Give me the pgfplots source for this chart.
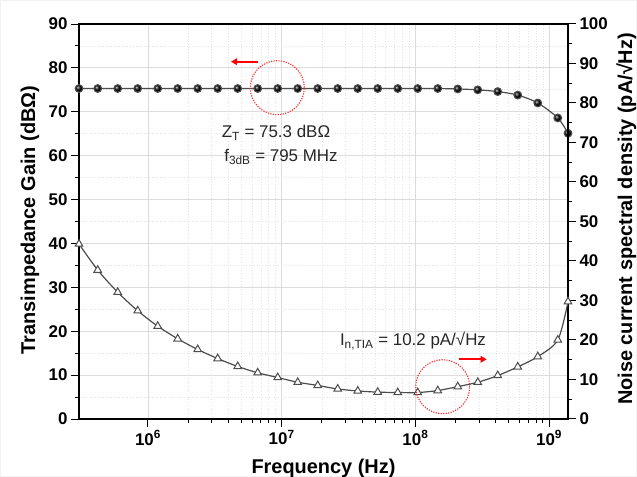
\documentclass[border=0pt]{standalone}
\usepackage{fontspec}
\setmainfont{Liberation Sans}
\usepackage{pgfplots}
\pgfplotsset{compat=1.18}
\usetikzlibrary{arrows.meta}

\definecolor{curve}{HTML}{4D4D4D}
\definecolor{gridmaj}{HTML}{DCDCDC}
\definecolor{gridmin}{HTML}{E4E4E4}

\pgfplotsset{
  tia/.style={
    scale only axis, width=489bp, height=395bp,
    at={(79bp,58bp)}, anchor=south west,
    xmin=3.05e5, xmax=1.385e9,
    tick align=outside, major tick length=8bp, minor tick length=4bp,
    every tick/.style={black, line width=1bp},
    axis line style={line width=1.3bp},
    tick label style={font=\fontsize{17}{17}\selectfont\bfseries},
    /pgf/number format/assume math mode=true,
  }
}

\begin{document}
\begin{tikzpicture}[lbl/.style={font=\fontsize{20}{20}\selectfont\bfseries, inner sep=0pt}]
\begin{pgfinterruptboundingbox}
% page frame, nearly white
\draw[black!5, line width=1bp] (0.5bp,0.5bp) rectangle (636.5bp,476.5bp);
\begin{semilogxaxis}[tia,
    ymin=0, ymax=90, ytick={0,10,...,90}, minor y tick num=1,
    xtick={1e6,1e7,1e8,1e9},
    xticklabels={10\textsuperscript{6},10\textsuperscript{7},10\textsuperscript{8},10\textsuperscript{9}},
    xtick pos=left, ytick pos=left,
    grid=both,
    major grid style={gridmaj, line width=0.8bp},
    minor grid style={gridmin, line width=0.7bp, dotted},
  ]
  % transimpedance gain (dBOhm)
  \addplot[curve, line width=1.2bp, smooth, mark=ball,
           mark options={ball color=black}, mark size=3.8bp] coordinates {
    (3.05e5,75.3)(4.21e5,75.3)(5.94e5,75.3)(8.38e5,75.3)(1.183e6,75.3)
    (1.669e6,75.3)(2.355e6,75.3)(3.323e6,75.3)(4.690e6,75.3)(6.618e6,75.3)
    (9.34e6,75.3)(1.318e7,75.3)(1.860e7,75.3)(2.625e7,75.3)(3.705e7,75.3)
    (5.228e7,75.3)(7.379e7,75.3)(1.041e8,75.3)(1.470e8,75.3)(2.074e8,75.2)
    (2.927e8,75.0)(4.130e8,74.6)(5.829e8,73.8)(8.228e8,72.0)(1.161e9,68.6)
    (1.385e9,65.1)
  };
\end{semilogxaxis}
\begin{semilogxaxis}[tia,
    ymin=0, ymax=100, ytick={0,10,...,100}, minor y tick num=1,
    hide x axis, axis y line*=right,
  ]
  % input-referred noise current (pA/sqrt(Hz))
  \addplot[curve, line width=1.2bp, smooth, mark=triangle*,
           mark options={fill=white, draw=curve, line width=1bp}, mark size=4.4bp] coordinates {
    (3.05e5,44.3)(4.21e5,37.7)(5.94e5,32.1)(8.38e5,27.4)(1.183e6,23.5)
    (1.669e6,20.3)(2.355e6,17.6)(3.323e6,15.3)(4.690e6,13.3)(6.618e6,11.7)
    (9.34e6,10.5)(1.318e7,9.3)(1.860e7,8.5)(2.625e7,7.6)(3.705e7,7.1)
    (5.228e7,6.8)(7.379e7,6.7)(1.041e8,6.7)(1.470e8,7.2)(2.074e8,8.2)
    (2.927e8,9.3)(4.130e8,11.0)(5.829e8,13.2)(8.228e8,15.8)(1.161e9,20.0)
    (1.385e9,29.7)
  };
\end{semilogxaxis}

% axis titles
\node[lbl, anchor=base] at (323.5bp,4bp) {Frequency (Hz)};
\node[lbl, anchor=base, rotate=90] at (35bp,257bp) {Transimpedance Gain (dBΩ)};
\node[lbl, anchor=base, rotate=90] at (632bp,258bp) {Noise current spectral density (pA/√Hz)};

% annotations
\draw[red!85!white, line width=1.1bp, dash pattern=on 1.2bp off 1.3bp]
  (277.3bp,389.3bp) circle[radius=27bp];
\draw[red!85!white, line width=1.1bp, dash pattern=on 1.2bp off 1.3bp]
  (442.7bp,90.3bp) circle[radius=27bp];
\draw[red, line width=2bp, -{Triangle[length=6bp,width=6.5bp]}]
  (258.3bp,415.3bp) -- (231bp,415.3bp);
\draw[red, line width=2bp, -{Triangle[length=6bp,width=6.5bp]}]
  (459.3bp,117.7bp) -- (486.7bp,117.7bp);
\node[anchor=base, text=black!85, font=\fontsize{17}{17}\selectfont, inner sep=0pt]
  at (276bp,339.3bp) {Z\textsubscript{T} = 75.3 dBΩ};
\node[anchor=base, text=black!85, font=\fontsize{17}{17}\selectfont, inner sep=0pt]
  at (281bp,315.3bp) {f\textsubscript{3dB} = 795 MHz};
\node[anchor=base, text=black!85, font=\fontsize{17}{17}\selectfont, inner sep=0pt]
  at (413bp,131bp) {I\textsubscript{n,TIA} = 10.2 pA/√Hz};
\end{pgfinterruptboundingbox}
\useasboundingbox (0,0) rectangle (637bp,477bp);
\end{tikzpicture}
\end{document}
